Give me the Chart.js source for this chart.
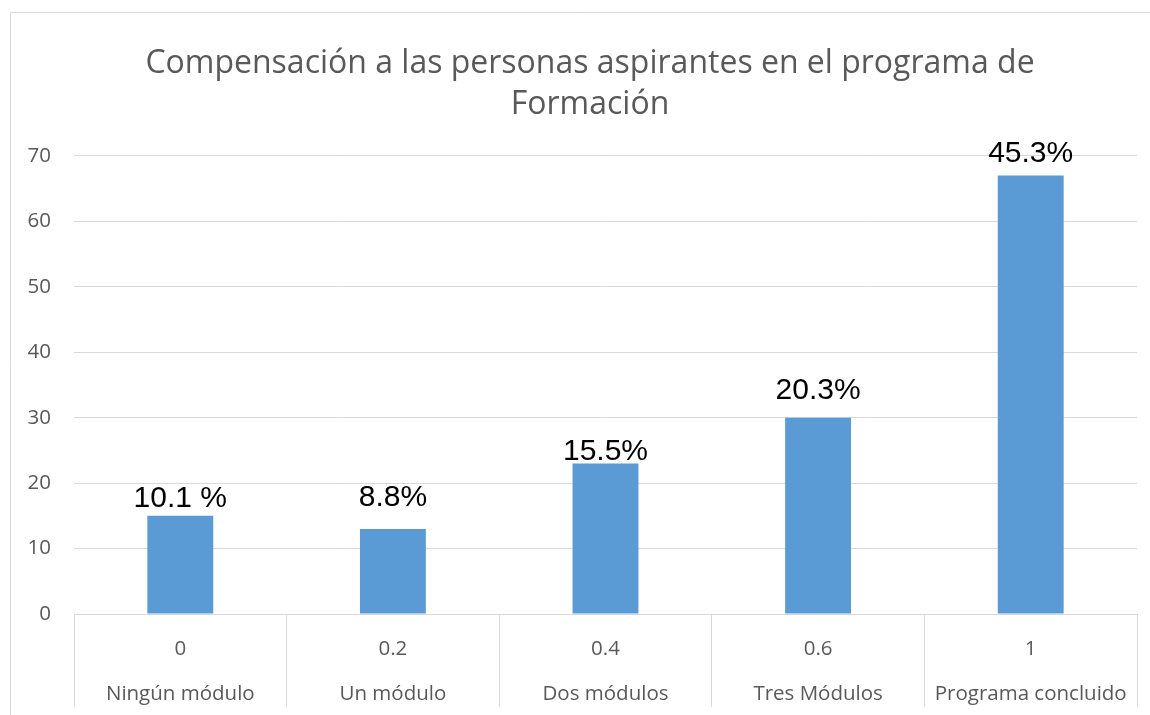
<!DOCTYPE html>
<html>
<head>
<meta charset="utf-8">
<script src="https://cdn.jsdelivr.net/npm/chart.js@4.4.1/dist/chart.umd.min.js"></script>
<style>
html,body{margin:0;padding:0;background:#fff;}
#wrap{position:absolute;left:0;top:0;width:1150px;height:715px;}
</style>
</head>
<body>
<div id="wrap"><canvas id="c" width="1150" height="715"></canvas></div>
<script>
const codes = ["0", "0.2", "0.4", "0.6", "1"];
const categories = ["Ningún módulo", "Un módulo", "Dos módulos", "Tres Módulos", "Programa concluido"];
const values = [15, 13, 23, 30, 67];
const percentLabels = ["10.1 %", "8.8%", "15.5%", "20.3%", "45.3%"];
const yTicks = [0, 10, 20, 30, 40, 50, 60, 70];
const titleLines = ["Compensación a las personas aspirantes en el programa de", "Formación"];
// label lift above bar top (style)
const labelLift = [17, 31, 12, 27, 22];

const frame = {
  id: 'frame',
  beforeDraw(chart) {
    const ctx = chart.ctx;
    ctx.save();
    ctx.fillStyle = '#fff';
    ctx.fillRect(0, 0, chart.width, chart.height);
    ctx.strokeStyle = '#d9d9d9';
    ctx.lineWidth = 1;
    ctx.beginPath();
    ctx.moveTo(10.5, 800);
    ctx.lineTo(10.5, 12.5);
    ctx.lineTo(1200, 12.5);
    ctx.stroke();
    ctx.restore();
  }
};

// let y tick labels extend left of the (narrow) axis box without being clipped
const widenY = {
  id: 'widenY',
  afterLayout(chart) {
    chart.scales.y.left = 0;
  }
};

const dataLabels = {
  id: 'dataLabels',
  afterDatasetsDraw(chart) {
    const ctx = chart.ctx;
    const meta = chart.getDatasetMeta(0);
    ctx.save();
    ctx.font = '30px "Liberation Sans", Arial, sans-serif';
    ctx.fillStyle = '#000';
    ctx.textAlign = 'center';
    ctx.textBaseline = 'middle';
    meta.data.forEach((bar, i) => {
      ctx.fillText(percentLabels[i], bar.x, bar.y - labelLift[i]);
    });
    ctx.restore();
  }
};

new Chart(document.getElementById('c'), {
  type: 'bar',
  data: {
    labels: codes.map((c, i) => [c, categories[i]]),
    datasets: [{
      data: values,
      backgroundColor: '#5b9bd5',
      borderWidth: 0,
      barPercentage: 0.31,
      categoryPercentage: 1.0
    }]
  },
  options: {
    responsive: false,
    animation: false,
    devicePixelRatio: 1,
    layout: { padding: { left: 43, right: 13, top: 43, bottom: 0 } },
    plugins: {
      legend: { display: false },
      tooltip: { enabled: false },
      title: {
        display: true,
        text: titleLines,
        color: '#595959',
        font: { family: '"Open Sans", sans-serif', size: 32, weight: 'normal', lineHeight: 1.28 },
        padding: { top: 0, bottom: 31 }
      }
    },
    scales: {
      x: {
        grid: {
          display: true,
          drawOnChartArea: false,
          drawTicks: true,
          tickLength: 93,
          color: '#d9d9d9',
          offset: true
        },
        border: { display: true, color: '#d9d9d9' },
        ticks: {
          color: '#595959',
          font: { family: '"Open Sans", sans-serif', size: 20.5, lineHeight: 2.2 },
          padding: -80,
          maxRotation: 0,
          autoSkip: false
        },
        afterFit(scale) { scale.height = 101; }
      },
      y: {
        min: 0,
        max: 70,
        afterBuildTicks(scale) { scale.ticks = yTicks.map(v => ({ value: v })); },
        grid: { color: '#d9d9d9', drawTicks: false },
        border: { display: false },
        ticks: {
          color: '#595959',
          font: { family: '"Open Sans", sans-serif', size: 20.5 },
          padding: 23
        },
        afterFit(scale) { scale.width = 31; }
      }
    }
  },
  plugins: [frame, widenY, dataLabels]
});
</script>
</body>
</html>
